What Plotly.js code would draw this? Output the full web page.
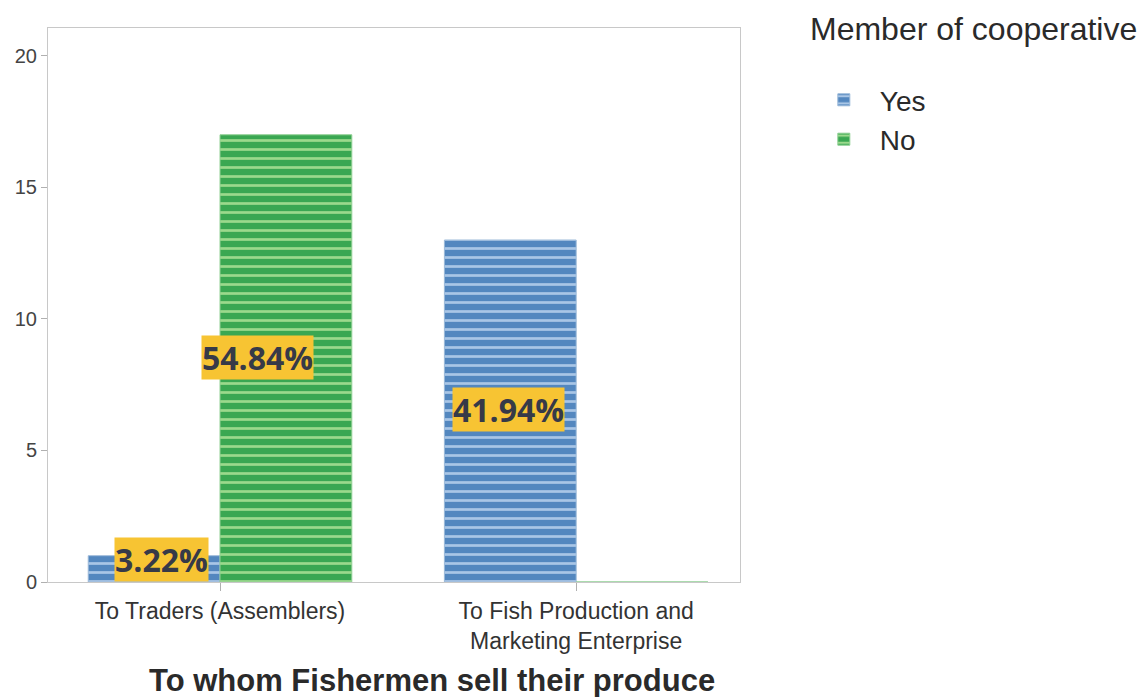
<!DOCTYPE html>
<html><head><meta charset="utf-8">
<script src="https://cdn.plot.ly/plotly-3.0.1.min.js"></script>
<style>html,body{margin:0;padding:0;background:#fff}#chart{width:1145px;height:697px}</style>
</head><body><div id="chart"></div>
<script>
const categories = ["To Traders (Assemblers)", "To Fish Production and<br>Marketing Enterprise"];
const seriesNames = ["Yes", "No"];
const yesValues = [1, 13];
const noValues = [17, 0];
const labelTexts = ["3.22%", "54.84%", "41.94%"];
const labelX = [-0.165, 0.105, 0.81];
const labelY = [0.86, 8.55, 6.56];
const legendTitle = "Member of cooperative";
const xTitle = "To whom Fishermen sell their produce";
const yTicks = [0, 5, 10, 15, 20];

const idx = categories.map((c, i) => i);
const traces = [
  {type: 'bar', name: seriesNames[0], x: idx, y: yesValues,
   marker: {color: '#5a8cc2', line: {color: '#9ab8d8', width: 1},
            pattern: {shape: '-', fgcolor: '#a9c6e6', bgcolor: '#5387bf', size: 9, solidity: 0.3}}},
  {type: 'bar', name: seriesNames[1], x: idx, y: noValues,
   marker: {color: '#42ad55', line: {color: '#8fcf92', width: 1},
            pattern: {shape: '-', fgcolor: '#9bd98c', bgcolor: '#3aa752', size: 9, solidity: 0.3}}}
];

const annotations = labelTexts.map((t, i) => ({
  x: labelX[i], y: labelY[i], xref: 'x', yref: 'y', text: t, showarrow: false,
  bgcolor: '#f7c433', borderpad: 0,
  font: {family: '"Open Sans", Lato, sans-serif', size: 32, color: '#363a48', weight: 'bold'}
}));
annotations.push({
  xref: 'paper', yref: 'paper', x: 1.098, y: 0.998, xanchor: 'left', yanchor: 'middle',
  text: legendTitle, showarrow: false,
  font: {family: 'Liberation Sans, Arial, sans-serif', size: 32, color: '#2a2a2a'}
});
annotations.push({
  xref: 'paper', yref: 'paper', x: 0.555, y: -0.177, xanchor: 'center', yanchor: 'middle',
  text: '<b>' + xTitle + '</b>', showarrow: false,
  font: {family: 'Liberation Sans, Arial, sans-serif', size: 31, color: '#2a2a2a'}
});

const layout = {
  width: 1145, height: 697,
  margin: {l: 48, r: 405, t: 28, b: 115},
  paper_bgcolor: '#ffffff', plot_bgcolor: '#ffffff',
  barmode: 'group', bargap: 0.26, bargroupgap: 0,
  showlegend: true,
  legend: {x: 1.098, y: 0.915, xanchor: 'left', yanchor: 'top',
           font: {family: 'Liberation Sans, Arial, sans-serif', size: 28, color: '#2a2a2a'},
           itemwidth: 62, tracegroupgap: 0, bgcolor: 'rgba(0,0,0,0)'},
  xaxis: {
    tickmode: 'array', tickvals: idx, ticktext: categories,
    range: [-0.483, 1.46], showgrid: false, zeroline: false,
    showline: true, linecolor: '#c8c8c8', linewidth: 1, mirror: true,
    ticks: 'outside', ticklen: 8, tickcolor: '#b0b0b0',
    tickfont: {family: 'Liberation Sans, Arial, sans-serif', size: 23, color: '#333'}
  },
  yaxis: {
    range: [0, 21.06], tickmode: 'array', tickvals: yTicks,
    showgrid: false, zeroline: false,
    showline: true, linecolor: '#c8c8c8', linewidth: 1, mirror: true,
    ticks: 'outside', ticklen: 6, tickcolor: '#b0b0b0',
    tickfont: {family: 'Liberation Sans, Arial, sans-serif', size: 20, color: '#444'}
  },
  annotations: annotations
};

Plotly.newPlot('chart', traces, layout, {displayModeBar: false, staticPlot: true});
</script></body></html>
